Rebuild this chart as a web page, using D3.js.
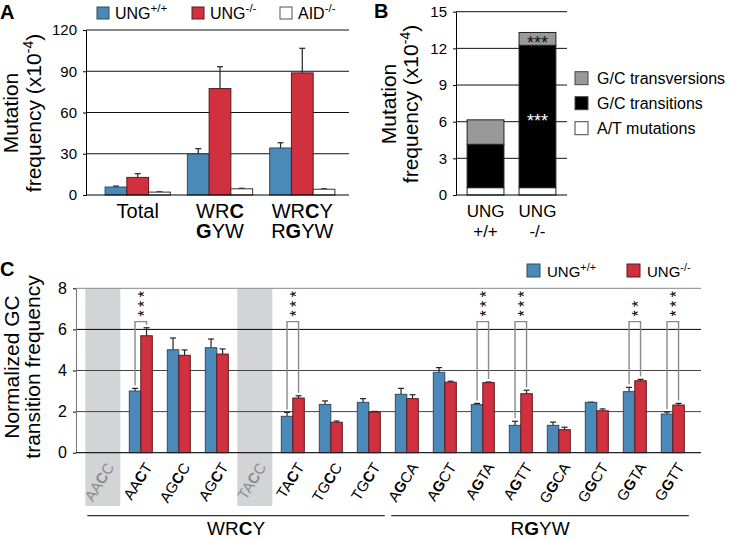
<!DOCTYPE html>
<html>
<head>
<meta charset="utf-8">
<script src="https://cdnjs.cloudflare.com/ajax/libs/d3/7.8.5/d3.min.js"></script>
<style>
  body { margin: 0; background: #fff; }
  text { font-family: "Liberation Sans", Arial, sans-serif; fill: #000; }
</style>
</head>
<body>
<svg id="chart" width="730" height="538"></svg>
<script>
// ---------- data: panel A ----------
const groupsA = ["Total", "WRC/GYW", "WRCY/RGYW"];
const ungWtA = [5.8, 29.8, 34.2];
const ungWtErrA = [0.7, 3.9, 3.8];
const ungKoA = [12.8, 77.4, 88.8];
const ungKoErrA = [2.7, 15.9, 17.9];
const aidKoA = [2.1, 4.5, 4.2];
const aidKoErrA = [0.2, 0.4, 0.3];
const ticksA = [0, 30, 60, 90, 120];

// ---------- data: panel B ----------
const groupsB = ["+/+", "-/-"];
const atMutB = [0.6, 0.6];
const gcTransitionsB = [3.55, 11.65];
const gcTransversionsB = [2.0, 1.05];
const starsTransitionsB = ["", "***"];
const starsTransversionsB = ["", "***"];
const ticksB = [0, 3, 6, 9, 12, 15];

// ---------- data: panel C ----------
const motifsC = ["AACC", "AACT", "AGCC", "AGCT", "TACC", "TACT", "TGCC", "TGCT",
                 "AGCA", "AGCT", "AGTA", "AGTT", "GGCA", "GGCT", "GGTA", "GGTT"];
const excludedC = [true, false, false, false, true, false, false, false,
                   false, false, false, false, false, false, false, false];
const ungWtC    = [null, 3.00, 5.01, 5.11, null, 1.77, 2.35, 2.45, 2.84, 3.91, 2.34, 1.33, 1.33, 2.45, 2.97, 1.88];
const ungWtErrC = [null, 0.13, 0.57, 0.42, null, 0.19, 0.17, 0.18, 0.29, 0.23, 0.06, 0.20, 0.16, 0.01, 0.21, 0.10];
const ungKoC    = [null, 5.69, 4.74, 4.80, null, 2.66, 1.48, 1.98, 2.63, 3.43, 3.41, 2.87, 1.12, 2.04, 3.50, 2.32];
const ungKoErrC = [null, 0.39, 0.26, 0.25, null, 0.11, 0.06, 0.03, 0.19, 0.05, 0.03, 0.17, 0.12, 0.09, 0.07, 0.08];
const sigC = ["", "***", "", "", "", "***", "", "", "", "", "***", "***", "", "", "**", "***"];
const ticksC = [0, 2, 4, 6, 8];

const blue = "#4b8ab8", red = "#d1303e";

const svg = d3.select("#chart");
svg.append("rect").attr("width", 730).attr("height", 538).attr("fill", "#fff");

// text with a raised part, e.g. UNG+/+
function supText(sel, x, y, base, sup, size) {
    const t = sel.append("text").attr("x", x).attr("y", y).style("font-size", size + "px");
    t.append("tspan").text(base);
    t.append("tspan").attr("dy", -size * 0.42).style("font-size", (size * 0.72) + "px").text(sup);
    return t;
}

// two-line rotated axis title
function yTitle(sel, x1, x2, cy, line1, line2, sup) {
    sel.append("text").attr("transform", `translate(${x1},${cy}) rotate(-90)`)
        .attr("text-anchor", "middle").style("font-size", "21px").text(line1);
    const t = sel.append("text").attr("transform", `translate(${x2},${cy}) rotate(-90)`)
        .attr("text-anchor", "middle").style("font-size", "21px");
    t.append("tspan").text(line2);
    if (sup) {
        t.append("tspan").attr("dy", -8).style("font-size", "14px").text(sup);
        t.append("tspan").attr("dy", 8).text(")");
    }
}

function styleAxis(g, size) {
    g.attr("font-family", null);
    g.selectAll("text").style("font-size", size + "px");
    g.select(".domain").attr("stroke", "#000");
    g.selectAll(".tick line").attr("stroke", "#000");
}

// ================= Panel A =================
const gA = svg.append("g");
const xA = d3.scaleBand().domain(groupsA).range([86, 354]).paddingInner(0.207).paddingOuter(0.232);
const seriesA = [
    {key: "wt", vals: ungWtA, errs: ungWtErrA, fill: blue, stroke: "#2e4d63"},
    {key: "ko", vals: ungKoA, errs: ungKoErrA, fill: red, stroke: "#5a1a20"},
    {key: "aid", vals: aidKoA, errs: aidKoErrA, fill: "#fff", stroke: "#333"}
];
const xAi = d3.scaleBand().domain(seriesA.map(s => s.key)).range([0, xA.bandwidth()]);
const yA = d3.scaleLinear().domain([0, 120]).range([195, 30]);

gA.selectAll("line.grid").data(ticksA.slice(1)).join("line")
    .attr("class", "grid")
    .attr("x1", 86).attr("x2", 349)
    .attr("y1", d => yA(d)).attr("y2", d => yA(d))
    .attr("stroke", "#111").attr("stroke-width", 1);

seriesA.forEach(s => {
    groupsA.forEach((grp, i) => {
        const x = xA(grp) + xAi(s.key), w = xAi.bandwidth(), cx = x + w / 2;
        const top = yA(s.vals[i] + s.errs[i]);
        gA.append("line").attr("x1", cx).attr("x2", cx)
            .attr("y1", yA(s.vals[i])).attr("y2", top).attr("stroke", "#222").attr("stroke-width", 1.2);
        gA.append("line").attr("x1", cx - 3).attr("x2", cx + 3)
            .attr("y1", top).attr("y2", top).attr("stroke", "#222").attr("stroke-width", 1.2);
        gA.append("rect").attr("x", x).attr("y", yA(s.vals[i]))
            .attr("width", w).attr("height", yA(0) - yA(s.vals[i]))
            .attr("fill", s.fill).attr("stroke", s.stroke).attr("stroke-width", 1);
    });
});

const axA = gA.append("g").attr("transform", "translate(86,0)")
    .call(d3.axisLeft(yA).tickValues(ticksA).tickSize(3).tickPadding(6).tickSizeOuter(0));
styleAxis(axA, 15);
gA.append("line").attr("x1", 86).attr("x2", 349).attr("y1", yA(0)).attr("y2", yA(0))
    .attr("stroke", "#000").attr("stroke-width", 1.2);

// group labels, C and G in bold, two lines in one text
groupsA.forEach(grp => {
    const cx = xA(grp) + xA.bandwidth() / 2;
    const t = gA.append("text").attr("text-anchor", "middle").style("font-size", "20px");
    grp.split("/").forEach((line, k) => {
        line.split("").forEach((ch, c) => {
            const ts = t.append("tspan").style("font-weight", (ch === "C" || ch === "G") ? "bold" : "normal").text(ch);
            if (c === 0) ts.attr("x", cx).attr("y", 218 + k * 20);
        });
    });
});

yTitle(gA, 18, 41, 113, "Mutation", "frequency (x10", "-4");

const legA = [["UNG", "+/+", blue, "#2e4d63", 97], ["UNG", "-/-", red, "#5a1a20", 192], ["AID", "-/-", "#fff", "#555", 280]];
legA.forEach(l => {
    gA.append("rect").attr("x", l[4]).attr("y", 7).attr("width", 12).attr("height", 12)
        .attr("fill", l[2]).attr("stroke", l[3]).attr("stroke-width", 1);
    supText(gA, l[4] + 18, 19, l[0], l[1], 16);
});
svg.append("text").attr("x", 0).attr("y", 19).style("font-size", "20px").style("font-weight", "bold").text("A");

// ================= Panel B =================
const gB = svg.append("g");
const xB = d3.scaleBand().domain(groupsB).range([456, 567]).paddingInner(0.291).paddingOuter(0.214);
const yB = d3.scaleLinear().domain([0, 15]).range([195, 11.7]);
const rowsB = groupsB.map((g, i) => ({group: g, at: atMutB[i], ts: gcTransitionsB[i], tv: gcTransversionsB[i]}));
const keysB = ["at", "ts", "tv"];
const fillB = {at: "#fff", ts: "#000", tv: "#999"};
const stackB = d3.stack().keys(keysB)(rowsB);

gB.selectAll("line.grid").data(ticksB.slice(1)).join("line")
    .attr("x1", 456).attr("x2", 567)
    .attr("y1", d => yB(d)).attr("y2", d => yB(d))
    .attr("stroke", "#111").attr("stroke-width", 1);

stackB.forEach(layer => {
    gB.selectAll(null).data(layer).join("rect")
        .attr("x", d => xB(d.data.group)).attr("width", xB.bandwidth())
        .attr("y", d => yB(d[1])).attr("height", d => yB(d[0]) - yB(d[1]))
        .attr("fill", fillB[layer.key]).attr("stroke", "#222").attr("stroke-width", 1);
});

// significance stars inside the stacked segments
const starLayers = [[stackB[1], starsTransitionsB, "#fff"], [stackB[2], starsTransversionsB, "#111"]];
starLayers.forEach(([layer, stars, col]) => {
    layer.forEach((d, i) => {
        if (!stars[i]) return;
        gB.append("text").attr("x", xB(d.data.group) + xB.bandwidth() / 2)
            .attr("y", (yB(d[0]) + yB(d[1])) / 2 + 10.5)
            .attr("text-anchor", "middle").style("font-size", "18px").style("fill", col).text(stars[i]);
    });
});

const axB = gB.append("g").attr("transform", "translate(456,0)")
    .call(d3.axisLeft(yB).tickValues(ticksB).tickSize(3).tickPadding(6).tickSizeOuter(0));
styleAxis(axB, 15);
gB.append("line").attr("x1", 456).attr("x2", 567).attr("y1", yB(0)).attr("y2", yB(0))
    .attr("stroke", "#000").attr("stroke-width", 1.2);

groupsB.forEach(g => {
    const cx = xB(g) + xB.bandwidth() / 2;
    const t = gB.append("text").attr("text-anchor", "middle").style("font-size", "17px");
    t.append("tspan").attr("x", cx).attr("y", 217).text("UNG");
    t.append("tspan").attr("x", cx).attr("y", 237).text(g);
});

yTitle(gB, 396, 418, 104, "Mutation", "frequency (x10", "-4");

const legB = [["G/C transversions", "#999"], ["G/C transitions", "#000"], ["A/T mutations", "#fff"]];
legB.forEach((l, k) => {
    const y = 71.7 + k * 25;
    gB.append("rect").attr("x", 575).attr("y", y).attr("width", 13).attr("height", 13)
        .attr("fill", l[1]).attr("stroke", "#444").attr("stroke-width", 1);
    gB.append("text").attr("x", 597).attr("y", y + 12.5).style("font-size", "16px").text(l[0]);
});
svg.append("text").attr("x", 374).attr("y", 18).style("font-size", "20px").style("font-weight", "bold").text("B");

// ================= Panel C =================
const gC = svg.append("g");
const xC = d3.scaleBand().domain(d3.range(motifsC.length)).range([83.8, 691.8]);
const xCi = d3.scaleBand().domain(["wt", "ko"]).range([-11.5, 11.5]);
const yC = d3.scaleLinear().domain([0, 8]).range([452.7, 288.3]);
const midC = i => xC(i) + xC.bandwidth() / 2;

// excluded motifs shaded
motifsC.forEach((m, i) => {
    if (!excludedC[i]) return;
    gC.append("rect").attr("x", midC(i) - 17.5).attr("y", yC(8)).attr("width", 35).attr("height", 506 - yC(8))
        .attr("fill", "#d3d4d6");
});

gC.selectAll("line.grid").data(ticksC.slice(1)).join("line")
    .attr("x1", 76).attr("x2", 701)
    .attr("y1", d => yC(d)).attr("y2", d => yC(d))
    .attr("stroke", d => d === 6 ? "#000" : (d === 8 ? "#888" : "#444")).attr("stroke-width", 1);

const seriesC = [
    {key: "wt", vals: ungWtC, errs: ungWtErrC, fill: blue, stroke: "#2e4d63"},
    {key: "ko", vals: ungKoC, errs: ungKoErrC, fill: red, stroke: "#5a1a20"}
];
seriesC.forEach(s => {
    motifsC.forEach((m, i) => {
        if (s.vals[i] == null) return;
        const x = midC(i) + xCi(s.key), w = xCi.bandwidth(), cx = x + w / 2;
        const top = yC(s.vals[i] + s.errs[i]);
        gC.append("line").attr("x1", cx).attr("x2", cx)
            .attr("y1", yC(s.vals[i])).attr("y2", top).attr("stroke", "#222").attr("stroke-width", 1.2);
        gC.append("line").attr("x1", cx - 3).attr("x2", cx + 3)
            .attr("y1", top).attr("y2", top).attr("stroke", "#222").attr("stroke-width", 1.2);
        gC.append("rect").attr("x", x).attr("y", yC(s.vals[i]))
            .attr("width", w).attr("height", yC(0) - yC(s.vals[i]))
            .attr("fill", s.fill).attr("stroke", s.stroke).attr("stroke-width", 1);
    });
});

// significance brackets; the star column is one text turned upright
const bracketY = yC(6.38);
motifsC.forEach((m, i) => {
    if (!sigC[i]) return;
    const xl = midC(i) + xCi("wt") + xCi.bandwidth() / 2;
    const xr = midC(i) + xCi("ko") + xCi.bandwidth() / 2;
    const yl = yC(ungWtC[i] + ungWtErrC[i]) - 3;
    const yr = yC(ungKoC[i] + ungKoErrC[i]) - 3;
    gC.append("path").attr("d", `M${xl},${yl}V${bracketY}H${xr}V${yr}`)
        .attr("fill", "none").attr("stroke", "#8a8a8a").attr("stroke-width", 1.4);
    gC.append("text")
        .attr("transform", `translate(${midC(i) + 9.2},${bracketY - 5}) rotate(-90)`)
        .attr("text-anchor", "start").style("font-size", "16px").style("letter-spacing", "3.4px")
        .text(sigC[i]);
});

const axC = gC.append("g").attr("transform", "translate(76,0)")
    .call(d3.axisLeft(yC).tickValues(ticksC).tickSize(3).tickPadding(6).tickSizeOuter(0));
styleAxis(axC, 16);
axC.select(".domain").attr("stroke", "#777");
gC.append("line").attr("x1", 76).attr("x2", 701).attr("y1", yC(0)).attr("y2", yC(0))
    .attr("stroke", "#222").attr("stroke-width", 1.2);

// slanted motif labels, core letter bold
motifsC.forEach((m, i) => {
    const boldAt = i < 8 ? 2 : 1;
    const t = gC.append("text")
        .attr("transform", `translate(${midC(i) + 12},467) rotate(-58)`)
        .attr("text-anchor", "end").style("font-size", "15px")
        .style("fill", excludedC[i] ? "#8c8c8c" : "#000");
    m.split("").forEach((ch, k) => {
        t.append("tspan").style("font-weight", k === boldAt ? "bold" : "normal").text(ch);
    });
});

// motif family brackets
const familiesC = [["WRCY", 0, 7], ["RGYW", 8, 15]];
familiesC.forEach(f => {
    const x1 = xC(f[1]) + 3.5, x2 = xC(f[2]) + xC.bandwidth() - 3;
    gC.append("line").attr("x1", x1).attr("x2", x2).attr("y1", 515.7).attr("y2", 515.7)
        .attr("stroke", "#333").attr("stroke-width", 1.2);
    const t = gC.append("text").attr("x", (x1 + x2) / 2).attr("y", 535)
        .attr("text-anchor", "middle").style("font-size", "19px");
    f[0].split("").forEach(ch => {
        t.append("tspan").style("font-weight", (ch === "C" || ch === "G") ? "bold" : "normal").text(ch);
    });
});

yTitle(gC, 19, 40, 367, "Normalized GC", "transition frequency", null);

const legC = [["UNG", "+/+", blue, "#2e4d63", 527], ["UNG", "-/-", red, "#5a1a20", 627]];
legC.forEach(l => {
    gC.append("rect").attr("x", l[4]).attr("y", 264).attr("width", 13).attr("height", 13)
        .attr("fill", l[2]).attr("stroke", l[3]).attr("stroke-width", 1);
    supText(gC, l[4] + 20, 277, l[0], l[1], 15);
});
svg.append("text").attr("x", 0).attr("y", 276).style("font-size", "20px").style("font-weight", "bold").text("C");
</script>
</body>
</html>
